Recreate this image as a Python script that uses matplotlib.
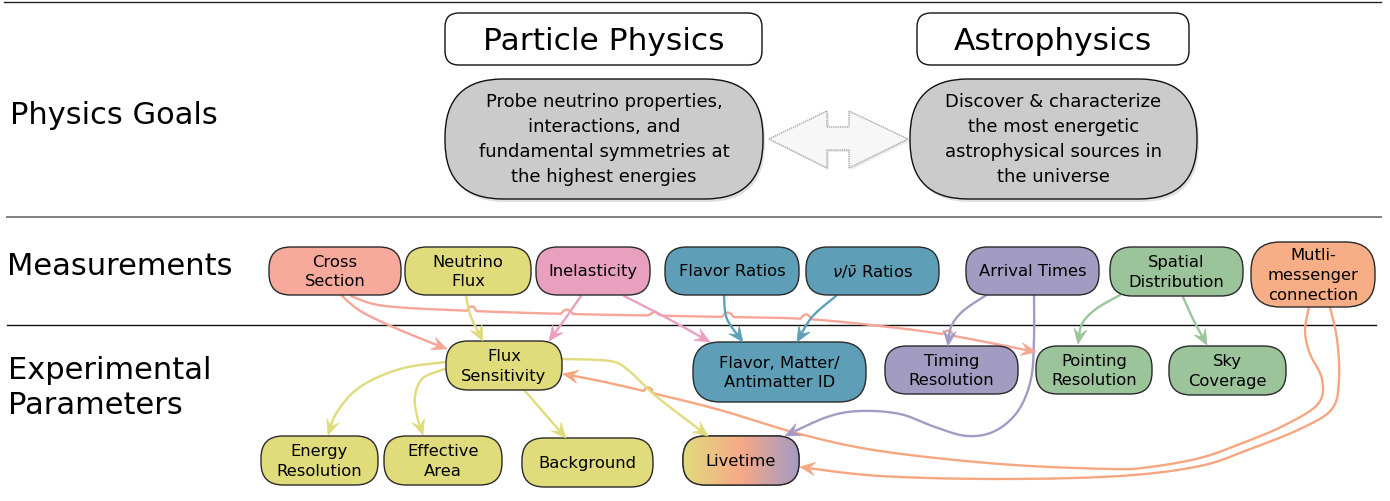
import numpy as np
import matplotlib
matplotlib.use("Agg")
import matplotlib.pyplot as plt
from matplotlib.patches import FancyBboxPatch, Polygon

# row labels on the left
row_labels = ["Physics Goals", "Measurements", "Experimental\nParameters"]

# goal boxes
goal_titles = ["Particle Physics", "Astrophysics"]
goal_texts = ["Probe neutrino properties,\ninteractions, and\nfundamental symmetries at\nthe highest energies",
              "Discover & characterize\nthe most energetic\nastrophysical sources in\nthe universe"]

# nodes: key -> label
nodes = {
    "xsec": "Cross\nSection",
    "nuflux": "Neutrino\nFlux",
    "inel": "Inelasticity",
    "flav": "Flavor Ratios",
    "nunubar": r"$\nu/\bar{\nu}$ Ratios",
    "arr": "Arrival Times",
    "spat": "Spatial\nDistribution",
    "multi": "Mutli-\nmessenger\nconnection",
    "fluxs": "Flux\nSensitivity",
    "fmid": "Flavor, Matter/\nAntimatter ID",
    "timing": "Timing\nResolution",
    "point": "Pointing\nResolution",
    "sky": "Sky\nCoverage",
    "eres": "Energy\nResolution",
    "aeff": "Effective\nArea",
    "bkg": "Background",
    "live": "Livetime",
}

# links between nodes (source, target)
links = [("xsec", "fluxs"), ("xsec", "point"), ("nuflux", "fluxs"), ("inel", "fluxs"),
         ("inel", "fmid"), ("flav", "fmid"), ("nunubar", "fmid"), ("arr", "timing"),
         ("arr", "live"), ("spat", "point"), ("spat", "sky"), ("multi", "fluxs"),
         ("multi", "live"), ("fluxs", "eres"), ("fluxs", "aeff"), ("fluxs", "bkg"),
         ("fluxs", "live")]

# ---- layout (pixel coordinates, y downwards) ----
box = {  # x0, x1, y0, y1
    "xsec": (269, 401, 248, 296), "nuflux": (405, 531, 248, 296),
    "inel": (536, 650, 248, 296), "flav": (665, 799, 248, 296),
    "nunubar": (806, 939, 248, 296), "arr": (966, 1099, 248, 296),
    "spat": (1110, 1243, 248, 297), "multi": (1251, 1375, 243, 308),
    "fluxs": (446, 562, 342, 391), "fmid": (693, 866, 343, 403),
    "timing": (885, 1018, 347, 395), "point": (1036, 1152, 347, 395),
    "sky": (1169, 1286, 347, 396), "eres": (261, 378, 437, 486),
    "aeff": (384, 502, 437, 486), "bkg": (522, 653, 439, 488),
    "live": (683, 799, 437, 486),
}
fills = {
    "xsec": "#f7aa9b", "nuflux": "#e0dc7c", "inel": "#e9a0be", "flav": "#5e9fb7",
    "nunubar": "#5e9fb7", "arr": "#a29bc2", "spat": "#9bc49b", "multi": "#f7ad85",
    "fluxs": "#e0dc7c", "fmid": "#5e9fb7", "timing": "#a29bc2", "point": "#9bc49b",
    "sky": "#9bc49b", "eres": "#e0dc7c", "aeff": "#e0dc7c", "bkg": "#e0dc7c",
    "live": None,
}
routes = {
    ("xsec", "fluxs"): [(342, 297), (362, 313), (400, 331), (447, 350)],
    ("xsec", "point"): [(351, 297), (385, 307), (474, 312), (570, 315), (728, 318),
                        (806, 320), (880, 327), (948, 336), (1036, 353)],
    ("nuflux", "fluxs"): [(466, 297), (471, 318), (483, 342)],
    ("inel", "fluxs"): [(581, 297), (565, 320), (549, 342)],
    ("inel", "fmid"): [(624, 297), (665, 318), (710, 343)],
    ("flav", "fmid"): [(724, 297), (727, 320), (743, 343)],
    ("nunubar", "fmid"): [(836, 297), (812, 318), (797, 343)],
    ("arr", "timing"): [(988, 295), (963, 312), (951, 328), (948, 347)],
    ("arr", "live"): [(1034, 295), (1034, 340), (1031, 380), (1018, 412), (995, 432),
                      (967, 437), (935, 428), (900, 415), (860, 412), (827, 418), (785, 437)],
    ("spat", "point"): [(1120, 296), (1096, 310), (1082, 325), (1078, 345)],
    ("spat", "sky"): [(1183, 298), (1194, 322), (1207, 346)],
    ("multi", "fluxs"): [(1309, 308), (1305, 332), (1310, 355), (1322, 380), (1318, 405),
                         (1283, 427), (1240, 445), (1200, 459), (1150, 468), (1110, 470),
                         (1000, 465), (880, 452), (800, 435), (720, 411), (648, 393),
                         (600, 382), (563, 375)],
    ("multi", "live"): [(1330, 308), (1337, 340), (1339, 380), (1332, 410), (1300, 430),
                        (1250, 450), (1200, 467), (1120, 477), (1000, 480), (880, 477),
                        (800, 468)],
    ("fluxs", "eres"): [(445, 363), (400, 370), (360, 388), (337, 413), (328, 436)],
    ("fluxs", "aeff"): [(445, 370), (423, 379), (415, 397), (417, 417), (423, 436)],
    ("fluxs", "bkg"): [(525, 392), (545, 415), (566, 439)],
    ("fluxs", "live"): [(562, 360), (610, 362), (628, 371), (645, 387), (662, 402), (708, 437)],
}
hops = {
    ("xsec", "point"): [(471, 312), (568, 315), (653, 316), (728, 318), (806, 320), (948, 336)],
    ("multi", "fluxs"): [(648, 393)],
}
line_colors = {"xsec": "#f7a597", "nuflux": "#e0dc7c", "inel": "#eba0c0", "flav": "#5ba1b9",
               "nunubar": "#5ba1b9", "arr": "#a49bc4", "spat": "#9bc59b", "multi": "#f6a77f",
               "fluxs": "#e0dc7c"}


def spline(pts, n=40):
    p = np.array(pts, float)
    p = np.vstack([p[0], p, p[-1]])
    out = []
    t = np.linspace(0, 1, n, endpoint=False)[:, None]
    for i in range(1, len(p) - 2):
        p0, p1, p2, p3 = p[i - 1], p[i], p[i + 1], p[i + 2]
        out.append(0.5 * (2 * p1 + (-p0 + p2) * t + (2 * p0 - 5 * p1 + 4 * p2 - p3) * t ** 2
                          + (-p0 + 3 * p1 - 3 * p2 + p3) * t ** 3))
    out.append(p[-2][None])
    return np.vstack(out)


def add_hops(c, pts, r=4.5):
    seg = np.hypot(*np.diff(c, axis=0).T)
    s = np.concatenate([[0], np.cumsum(seg)])
    tang = np.gradient(c, axis=0)
    tang /= np.hypot(*tang.T)[:, None]
    normal = np.stack([tang[:, 1], -tang[:, 0]], 1)
    # hops always bulge upwards (negative y on screen)
    normal[normal[:, 1] > 0] *= -1
    c = c.copy()
    for hp in pts:
        i = np.argmin(np.hypot(*(c - np.array(hp)).T))
        off = np.sqrt(np.clip(r ** 2 - (s - s[i]) ** 2, 0, None))
        c += normal * off[:, None]
    return c


fig = plt.figure(figsize=(13.9, 5.02), dpi=100)
ax = fig.add_axes([0, 0, 1, 1])
ax.set_xlim(0, 1390)
ax.set_ylim(502, 0)
ax.axis("off")

# section separators
ax.plot([4, 1381], [3, 3], color="#222222", lw=1.0)
ax.plot([7, 1381], [218, 218], color="#808080", lw=1.4)
ax.plot([7, 1376], [326, 326], color="#111111", lw=1.0)

ax.text(10, 115, row_labels[0], fontsize=22, va="center", ha="left")
ax.text(7, 267, row_labels[1], fontsize=22, va="center", ha="left")
ax.text(8, 388, row_labels[2], fontsize=22, va="center", ha="left", linespacing=1.3)

# goal boxes
for (x0, x1), title in zip([(445, 762), (917, 1189)], goal_titles):
    ax.add_patch(FancyBboxPatch((x0, 14), x1 - x0, 52, boxstyle="round,pad=0,rounding_size=14",
                                fc="white", ec="#111111", lw=1.0, zorder=3))
    ax.text((x0 + x1) / 2, 41, title, fontsize=22.5, ha="center", va="center", zorder=4)
for (x0, x1), txt in zip([(445, 763), (910, 1197)], goal_texts):
    ax.add_patch(FancyBboxPatch((x0 + 2, 83), x1 - x0, 120, boxstyle="round,pad=0,rounding_size=58",
                                fc="#000000", ec="none", alpha=0.12, zorder=2))
    ax.add_patch(FancyBboxPatch((x0, 80), x1 - x0, 120, boxstyle="round,pad=0,rounding_size=58",
                                fc="#cbcbcb", ec="#111111", lw=1.0, zorder=3))
    ax.text((x0 + x1) / 2, 140, txt, fontsize=13, ha="center", va="center",
            linespacing=1.5, zorder=4)

# double arrow between the goals
darrow = [(769, 140), (827, 112), (827, 128), (849, 128), (849, 112), (908, 140),
          (849, 169), (849, 151), (827, 151), (827, 169)]
ax.add_patch(Polygon([(x + 2, y + 2) for x, y in darrow], closed=True, fc="#dddddd",
                     ec="none", alpha=0.6, zorder=2))
ax.add_patch(Polygon(darrow, closed=True, fc="#f7f7f7", ec="#a8a8a8", lw=1.0, ls=(0, (1, 0.6)),
                     zorder=3))

# links
for src, dst in links:
    col = line_colors[src]
    c = spline(routes[(src, dst)])
    if (src, dst) in hops:
        c = add_hops(c, hops[(src, dst)])
    tip = c[-1]
    d = c[-1] - c[-5]
    d /= np.hypot(*d)
    p = np.array([-d[1], d[0]])
    L, w = 15, 6.5
    back = tip - d * L
    head = [tip, back + p * w, tip - d * L * 0.6, back - p * w]
    keep = np.hypot(*(c - tip).T) > L * 0.6
    ax.plot(c[keep, 0], c[keep, 1], color=col, lw=1.7, solid_capstyle="round", zorder=2)
    ax.add_patch(Polygon(head, closed=True, fc=col, ec=col, lw=0.5, zorder=5))

# node boxes
for key, label in nodes.items():
    x0, x1, y0, y1 = box[key]
    h = y1 - y0
    patch = FancyBboxPatch((x0, y0), x1 - x0, h, boxstyle=f"round,pad=0,rounding_size={h * 0.45:.1f}",
                           fc=fills[key] if fills[key] else "none", ec="#2a2a2a", lw=1.0, zorder=3)
    ax.add_patch(patch)
    if fills[key] is None:
        grad = matplotlib.colors.LinearSegmentedColormap.from_list(
            "lt", ["#e0dc7c", "#f7a987", "#a29bc2"])
        im = ax.imshow(np.linspace(0, 1, 256)[None, :], cmap=grad, aspect="auto",
                       extent=(x0, x1, y1, y0), zorder=3)
        im.set_clip_path(patch)
        ax.add_patch(FancyBboxPatch((x0, y0), x1 - x0, h,
                                    boxstyle=f"round,pad=0,rounding_size={h * 0.45:.1f}",
                                    fc="none", ec="#2a2a2a", lw=1.0, zorder=4))
    ax.text((x0 + x1) / 2, (y0 + y1) / 2, label, fontsize=11.8, ha="center", va="center",
            linespacing=1.4, zorder=6)

ax.set_xlim(0, 1390)
ax.set_ylim(502, 0)
fig.savefig("out.png", dpi=100)
